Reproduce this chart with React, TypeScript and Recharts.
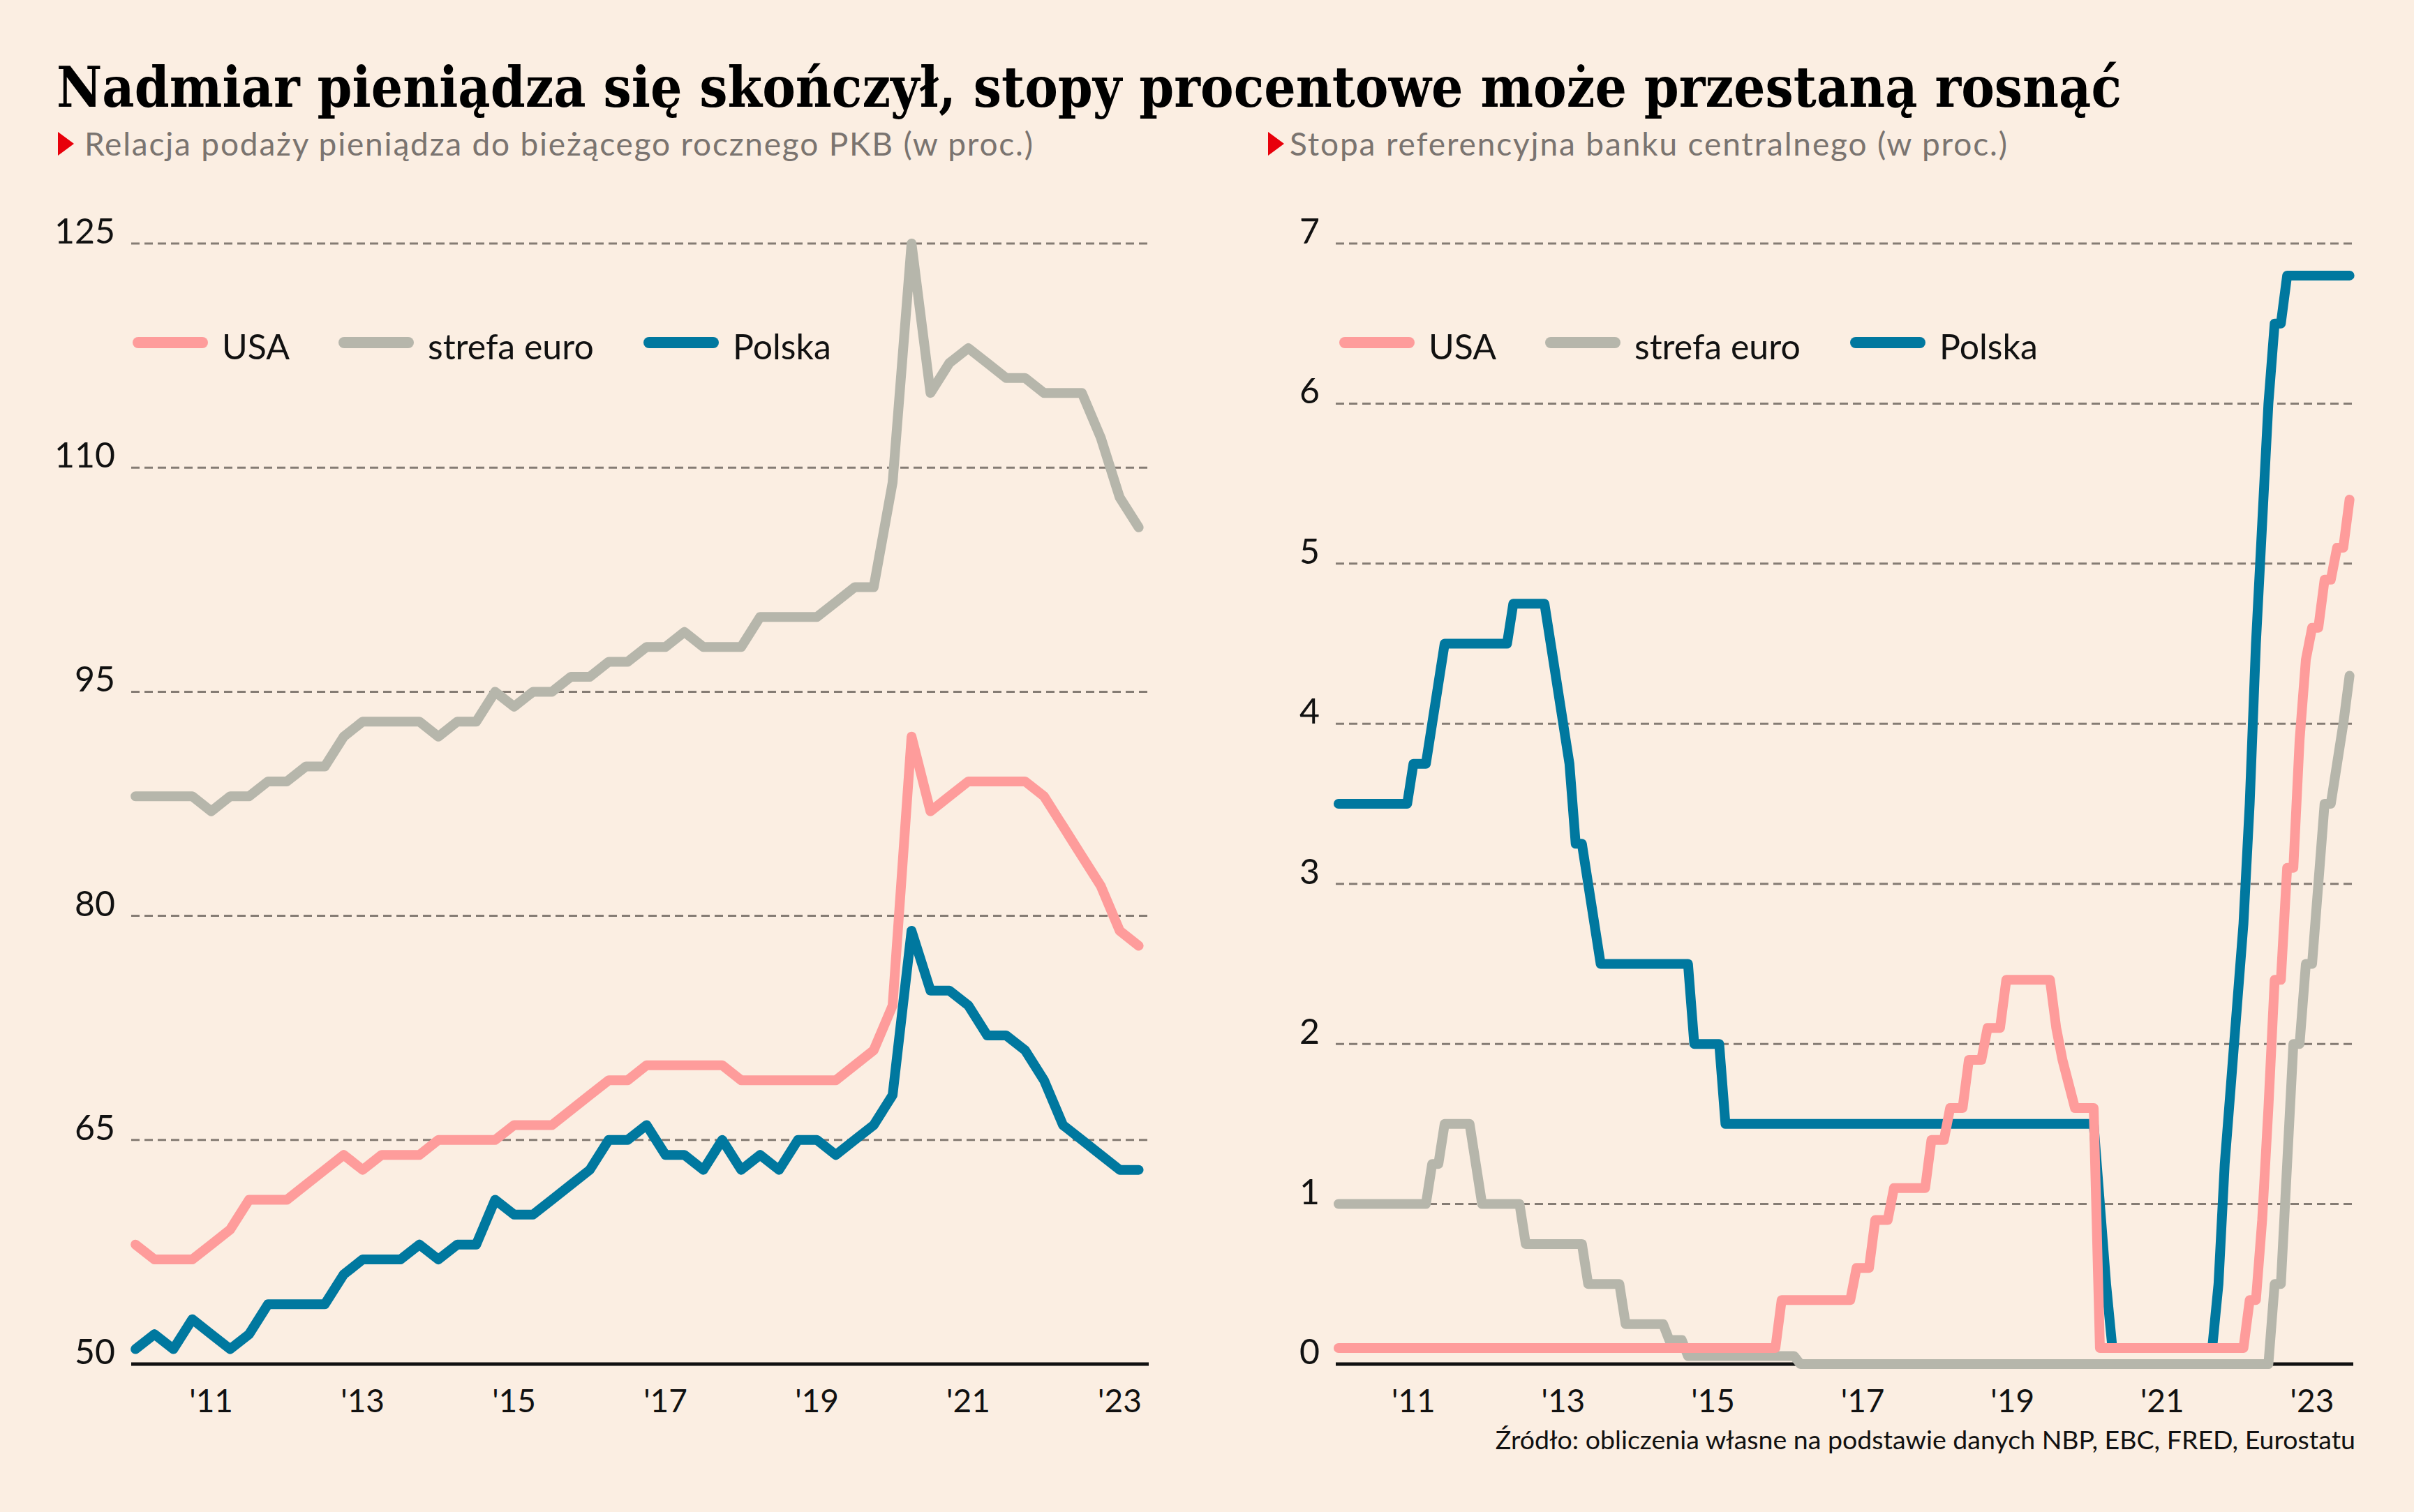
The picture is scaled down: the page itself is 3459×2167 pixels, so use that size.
import React from "react";
import { LineChart, Line, XAxis, YAxis, CartesianGrid, ReferenceLine } from "recharts";

// quarterly, 2010Q1 - 2023Q2: money supply / GDP (%)
const m2Usa = [
  58, 57, 57, 57, 58, 59, 61, 61, 61, 62, 63, 64, 63, 64, 64, 64,
  65, 65, 65, 65, 66, 66, 66, 67, 68, 69, 69, 70, 70, 70, 70, 70,
  69, 69, 69, 69, 69, 69, 70, 71, 74, 92, 87, 88, 89, 89, 89, 89,
  88, 86, 84, 82, 79, 78,
];
const m2Euro = [
  88, 88, 88, 88, 87, 88, 88, 89, 89, 90, 90, 92, 93, 93, 93, 93,
  92, 93, 93, 95, 94, 95, 95, 96, 96, 97, 97, 98, 98, 99, 98, 98,
  98, 100, 100, 100, 100, 101, 102, 102, 109, 125, 115, 117, 118, 117, 116, 116,
  115, 115, 115, 112, 108, 106,
];
const m2Poland = [
  51, 52, 51, 53, 52, 51, 52, 54, 54, 54, 54, 56, 57, 57, 57, 58,
  57, 58, 58, 61, 60, 60, 61, 62, 63, 65, 65, 66, 64, 64, 63, 65,
  63, 64, 63, 65, 65, 64, 65, 66, 68, 79, 75, 75, 74, 72, 72, 71,
  69, 66, 65, 64, 63, 63,
];

// monthly, Jan 2010 - Jul 2023: central bank reference rate (%)
const rateUsa = [
  0.1, 0.1, 0.1, 0.1, 0.1, 0.1, 0.1, 0.1, 0.1, 0.1, 0.1, 0.1,
  0.1, 0.1, 0.1, 0.1, 0.1, 0.1, 0.1, 0.1, 0.1, 0.1, 0.1, 0.1,
  0.1, 0.1, 0.1, 0.1, 0.1, 0.1, 0.1, 0.1, 0.1, 0.1, 0.1, 0.1,
  0.1, 0.1, 0.1, 0.1, 0.1, 0.1, 0.1, 0.1, 0.1, 0.1, 0.1, 0.1,
  0.1, 0.1, 0.1, 0.1, 0.1, 0.1, 0.1, 0.1, 0.1, 0.1, 0.1, 0.1,
  0.1, 0.1, 0.1, 0.1, 0.1, 0.1, 0.1, 0.1, 0.1, 0.1, 0.1, 0.4,
  0.4, 0.4, 0.4, 0.4, 0.4, 0.4, 0.4, 0.4, 0.4, 0.4, 0.4, 0.6,
  0.6, 0.6, 0.9, 0.9, 0.9, 1.1, 1.1, 1.1, 1.1, 1.1, 1.1, 1.4,
  1.4, 1.4, 1.6, 1.6, 1.6, 1.9, 1.9, 1.9, 2.1, 2.1, 2.1, 2.4,
  2.4, 2.4, 2.4, 2.4, 2.4, 2.4, 2.4, 2.1, 1.9, 1.75, 1.6, 1.6,
  1.6, 1.6, 0.1, 0.1, 0.1, 0.1, 0.1, 0.1, 0.1, 0.1, 0.1, 0.1,
  0.1, 0.1, 0.1, 0.1, 0.1, 0.1, 0.1, 0.1, 0.1, 0.1, 0.1, 0.1,
  0.1, 0.1, 0.4, 0.4, 0.9, 1.6, 2.4, 2.4, 3.1, 3.1, 3.9, 4.4,
  4.6, 4.6, 4.9, 4.9, 5.1, 5.1, 5.4,
];
const rateEuro = [
  1, 1, 1, 1, 1, 1, 1, 1, 1, 1, 1, 1,
  1, 1, 1, 1.25, 1.25, 1.5, 1.5, 1.5, 1.5, 1.5, 1.25, 1,
  1, 1, 1, 1, 1, 1, 0.75, 0.75, 0.75, 0.75, 0.75, 0.75,
  0.75, 0.75, 0.75, 0.75, 0.5, 0.5, 0.5, 0.5, 0.5, 0.5, 0.25, 0.25,
  0.25, 0.25, 0.25, 0.25, 0.25, 0.15, 0.15, 0.15, 0.05, 0.05, 0.05, 0.05,
  0.05, 0.05, 0.05, 0.05, 0.05, 0.05, 0.05, 0.05, 0.05, 0.05, 0.05, 0.05,
  0.05, 0.05, 0, 0, 0, 0, 0, 0, 0, 0, 0, 0,
  0, 0, 0, 0, 0, 0, 0, 0, 0, 0, 0, 0,
  0, 0, 0, 0, 0, 0, 0, 0, 0, 0, 0, 0,
  0, 0, 0, 0, 0, 0, 0, 0, 0, 0, 0, 0,
  0, 0, 0, 0, 0, 0, 0, 0, 0, 0, 0, 0,
  0, 0, 0, 0, 0, 0, 0, 0, 0, 0, 0, 0,
  0, 0, 0, 0, 0, 0, 0.5, 0.5, 1.25, 2, 2, 2.5,
  2.5, 3, 3.5, 3.5, 3.75, 4, 4.3,
];
const ratePoland = [
  3.5, 3.5, 3.5, 3.5, 3.5, 3.5, 3.5, 3.5, 3.5, 3.5, 3.5, 3.5,
  3.75, 3.75, 3.75, 4, 4.25, 4.5, 4.5, 4.5, 4.5, 4.5, 4.5, 4.5,
  4.5, 4.5, 4.5, 4.5, 4.75, 4.75, 4.75, 4.75, 4.75, 4.75, 4.5, 4.25,
  4, 3.75, 3.25, 3.25, 3, 2.75, 2.5, 2.5, 2.5, 2.5, 2.5, 2.5,
  2.5, 2.5, 2.5, 2.5, 2.5, 2.5, 2.5, 2.5, 2.5, 2, 2, 2,
  2, 2, 1.5, 1.5, 1.5, 1.5, 1.5, 1.5, 1.5, 1.5, 1.5, 1.5,
  1.5, 1.5, 1.5, 1.5, 1.5, 1.5, 1.5, 1.5, 1.5, 1.5, 1.5, 1.5,
  1.5, 1.5, 1.5, 1.5, 1.5, 1.5, 1.5, 1.5, 1.5, 1.5, 1.5, 1.5,
  1.5, 1.5, 1.5, 1.5, 1.5, 1.5, 1.5, 1.5, 1.5, 1.5, 1.5, 1.5,
  1.5, 1.5, 1.5, 1.5, 1.5, 1.5, 1.5, 1.5, 1.5, 1.5, 1.5, 1.5,
  1.5, 1.5, 1, 0.5, 0.1, 0.1, 0.1, 0.1, 0.1, 0.1, 0.1, 0.1,
  0.1, 0.1, 0.1, 0.1, 0.1, 0.1, 0.1, 0.1, 0.1, 0.5, 1.25, 1.75,
  2.25, 2.75, 3.5, 4.5, 5.25, 6, 6.5, 6.5, 6.8, 6.8, 6.8, 6.8,
  6.8, 6.8, 6.8, 6.8, 6.8, 6.8, 6.8,
];

const yearTicks = [2011, 2013, 2015, 2017, 2019, 2021, 2023];
const yearLabels = ["'11", "'13", "'15", "'17", "'19", "'21", "'23"];
const m2Ticks = [50, 65, 80, 95, 110, 125];
const rateTicks = [0, 1, 2, 3, 4, 5, 6, 7];

const series = [
  { key: "usa", name: "USA", color: "#fe9c9b" },
  { key: "euro", name: "strefa euro", color: "#b6b6ab" },
  { key: "pl", name: "Polska", color: "#00789f" },
];

const m2Rows = m2Usa.map((v, i) => ({
  t: 2010 + i / 4,
  usa: v,
  euro: m2Euro[i],
  pl: m2Poland[i],
}));

const rateRows = rateUsa.map((v, i) => ({
  t: 2010 + i / 12,
  usa: v,
  euro: rateEuro[i],
  pl: ratePoland[i],
}));

const BG = "#fbeee2";
const FONT = "Lato, 'Noto Sans', sans-serif";
const W = 3459;
const H = 2167;

const YTick = (props: any) => (
  <text x={props.x} y={props.y} textAnchor="end" fontSize={50} fill="#111" fontFamily={FONT}>
    {props.payload.value}
  </text>
);

const XTick = (props: any) => (
  <text x={props.x} y={props.y + 69} textAnchor="middle" fontSize={46} fill="#111" fontFamily={FONT}>
    {yearLabels[yearTicks.indexOf(props.payload.value)]}
  </text>
);

function Panel({ rows, ticks, domain, xDomain, order, left, right, axisW }: any) {
  return (
    <div style={{ position: "absolute", left, top: 0 }}>
      <LineChart
        width={1700}
        height={H}
        data={rows}
        margin={{ top: 349, right, bottom: 112, left: 0 }}
      >
        <CartesianGrid vertical={false} stroke="#857c74" strokeWidth={3} strokeDasharray="12 7" />
        <XAxis
          dataKey="t"
          type="number"
          domain={xDomain}
          ticks={yearTicks}
          tick={<XTick />}
          tickLine={false}
          tickSize={0}
          tickMargin={0}
          height={100}
          axisLine={false}
        />
        <YAxis
          domain={domain}
          ticks={ticks}
          width={axisW}
          tick={<YTick />}
          tickLine={false}
          tickSize={0}
          tickMargin={23}
          axisLine={false}
          interval={0}
        />
        <ReferenceLine y={domain[0]} stroke="#111" strokeWidth={5} />
        {order.map((k: string) => {
          const s = series.find((d) => d.key === k)!;
          return (
            <Line
              key={k}
              type="linear"
              dataKey={k}
              stroke={s.color}
              strokeWidth={14}
              strokeLinejoin="round"
              strokeLinecap="round"
              dot={false}
              activeDot={false}
              isAnimationActive={false}
            />
          );
        })}
      </LineChart>
    </div>
  );
}

function Legend({ x0 }: { x0: number }) {
  const offsets = [0, 295, 732];
  return (
    <g>
      {series.map((s, i) => (
        <g key={s.key}>
          <line
            x1={x0 + offsets[i] + 8}
            x2={x0 + offsets[i] + 100}
            y1={491}
            y2={491}
            stroke={s.color}
            strokeWidth={16}
            strokeLinecap="round"
          />
          <text x={x0 + offsets[i] + 128} y={515} fontSize={50} fill="#111" fontFamily={FONT}>
            {s.name}
          </text>
        </g>
      ))}
    </g>
  );
}

export default function App() {
  return (
    <div
      style={{
        position: "absolute",
        left: 0,
        top: 0,
        width: W,
        height: H,
        background: BG,
        overflow: "hidden",
      }}
    >
      <Panel
        rows={m2Rows}
        ticks={m2Ticks}
        domain={[50, 125]}
        xDomain={[2009.943, 2023.383]}
        order={["euro", "usa", "pl"]}
        left={0}
        right={54}
        axisW={188}
      />
      <Panel
        rows={rateRows}
        ticks={rateTicks}
        domain={[0, 7]}
        xDomain={[2009.963, 2023.55]}
        order={["euro", "pl", "usa"]}
        left={1730}
        right={58}
        axisW={184}
      />
      <svg
        width={W}
        height={H}
        style={{ position: "absolute", left: 0, top: 0, pointerEvents: "none" }}
      >
        <text
          x={81}
          y={153}
          fontSize={80}
          fontWeight="bold"
          fill="#000"
          fontFamily="'DejaVu Serif', 'Liberation Serif', serif"
          textLength={2959}
          lengthAdjust="spacingAndGlyphs"
        >
          Nadmiar pieniądza się skończył, stopy procentowe może przestaną rosnąć
        </text>
        <polygon points="83,189 106,206 83,223" fill="#e8000b" />
        <text x={121} y={223} fontSize={46} fill="#7a7470" fontFamily={FONT} textLength={1359}>
          Relacja podaży pieniądza do bieżącego rocznego PKB (w proc.)
        </text>
        <polygon points="1817,189 1840,206 1817,223" fill="#e8000b" />
        <text x={1848} y={223} fontSize={46} fill="#7a7470" fontFamily={FONT} textLength={1028}>
          Stopa referencyjna banku centralnego (w proc.)
        </text>
        <Legend x0={190} />
        <Legend x0={1919} />
        <text x={3375} y={2077} textAnchor="end" fontSize={37.5} fill="#111" fontFamily={FONT}>
          Źródło: obliczenia własne na podstawie danych NBP, EBC, FRED, Eurostatu
        </text>
      </svg>
    </div>
  );
}
